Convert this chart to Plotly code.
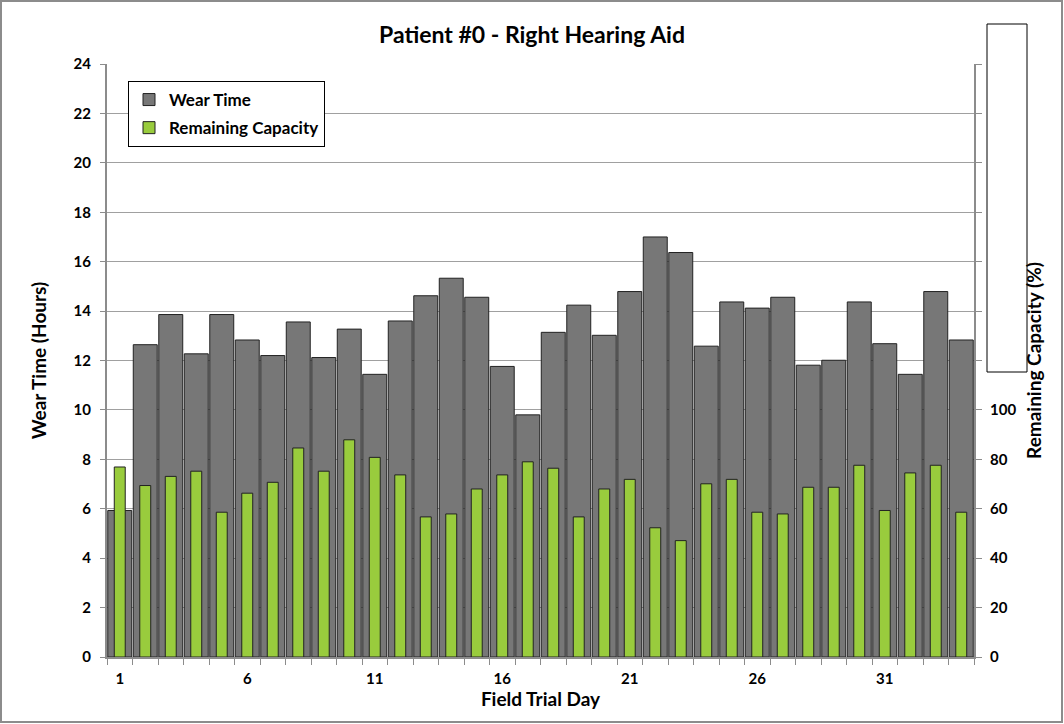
import plotly.graph_objects as go

days = list(range(1, 35))
wear_time = [5.93, 12.64, 13.86, 12.27, 13.86, 12.83, 12.2, 13.56, 12.12, 13.27,
             11.44, 13.6, 14.62, 15.33, 14.56, 11.76, 9.8, 13.14, 14.24, 13.02,
             14.79, 17.0, 16.37, 12.58, 14.37, 14.12, 14.56, 11.81, 12.01, 14.37,
             12.68, 11.44, 14.79, 12.83]
remaining_capacity = [76.9, 69.4, 73.1, 75.2, 58.6, 66.3, 70.7, 84.6, 75.2, 87.9,
                      80.8, 73.7, 56.7, 57.9, 68.0, 73.7, 79.0, 76.4, 56.7, 68.0,
                      71.9, 52.3, 47.1, 70.1, 71.9, 58.6, 57.9, 68.7, 68.7, 77.6,
                      59.3, 74.5, 77.6, 58.6]
x_tick_vals = [1, 6, 11, 16, 21, 26, 31]
left_ticks = list(range(0, 25, 2))
right_ticks = list(range(0, 241, 20))
right_labels = [str(v) if v <= 100 else "" for v in right_ticks]

FONT = "Lato"
WT = "bold"
L, R, T, B = 107, 90, 64, 67
W, H = 1064, 724
pw, ph = W - L - R, H - T - B

def px(xp):
    return (xp - L) / pw

def py(yp):
    return (H - B - yp) / ph

tickfont = dict(size=15, family=FONT, weight=WT, color="black")
titlefont = dict(size=19, family=FONT, weight=WT, color="black")

fig = go.Figure()
fig.add_trace(go.Bar(
    x=days, y=wear_time, name="Wear Time", width=0.94, legendgroup="a",
    marker=dict(color="#777777", line=dict(color="#222222", width=1)),
    yaxis="y"))
fig.add_trace(go.Bar(
    x=days, y=remaining_capacity, name="Remaining Capacity", width=0.43, legendgroup="b",
    marker=dict(color="#99CC3D", line=dict(color="#222222", width=1)),
    yaxis="y2"))

fig.update_layout(
    width=W, height=H,
    margin=dict(l=L, r=R, t=T, b=B),
    paper_bgcolor="white", plot_bgcolor="white",
    barmode="overlay",
    font=dict(family=FONT, color="black", size=14),
    title=dict(text="Patient #0 - Right Hearing Aid", x=0.5, xanchor="center",
               y=1 - 35 / H, yanchor="middle",
               font=dict(size=23, family=FONT, weight=WT, color="black")),
    showlegend=True,
    legend=dict(x=px(128), y=py(81), xanchor="left", yanchor="top",
                bordercolor="black", borderwidth=1, bgcolor="white",
                font=dict(size=17, family=FONT, weight=WT, color="black"),
                tracegroupgap=3, itemwidth=30),
    xaxis=dict(range=[0.5, 34.5], tickvals=x_tick_vals, ticks="", ticklen=0,
               showline=True, linecolor="#8c8c8c", linewidth=2,
               showgrid=False, zeroline=False, tickfont=tickfont,
               ticklabelstandoff=7,
               minor=dict(tick0=0.5, dtick=1, ticks="outside", ticklen=6,
                          tickcolor="#8c8c8c", showgrid=False),
               title=dict(text="Field Trial Day", font=titlefont, standoff=6)),
    yaxis=dict(range=[0, 24], tickvals=left_ticks, ticks="outside", ticklen=5,
               tickcolor="#8c8c8c", showline=True, linecolor="#8c8c8c", linewidth=2,
               showgrid=True, gridcolor="#a0a0a0", gridwidth=1, zeroline=False,
               tickfont=tickfont, ticklabelstandoff=6,
               title=dict(text="Wear Time (Hours)", font=titlefont, standoff=22)),
    yaxis2=dict(range=[0, 240], overlaying="y", side="right", tickvals=right_ticks,
                ticktext=right_labels, ticks="outside", ticklen=6, tickcolor="#8c8c8c",
                showline=True, linecolor="#8c8c8c", linewidth=2, showgrid=False,
                zeroline=False, tickfont=tickfont, ticklabelstandoff=5,
                title=dict(text="Remaining Capacity (%)", font=titlefont, standoff=12)),
    shapes=[
        dict(type="rect", xref="paper", yref="paper",
             x0=px(1), x1=px(1062), y0=py(722), y1=py(1),
             line=dict(color="#8c8c8c", width=2), fillcolor="rgba(0,0,0,0)", layer="above"),
        dict(type="rect", xref="paper", yref="paper",
             x0=px(987), x1=px(1027), y0=py(372), y1=py(24),
             line=dict(color="black", width=1), fillcolor="white", layer="below"),
    ],
)

fig.write_html("out.html")
